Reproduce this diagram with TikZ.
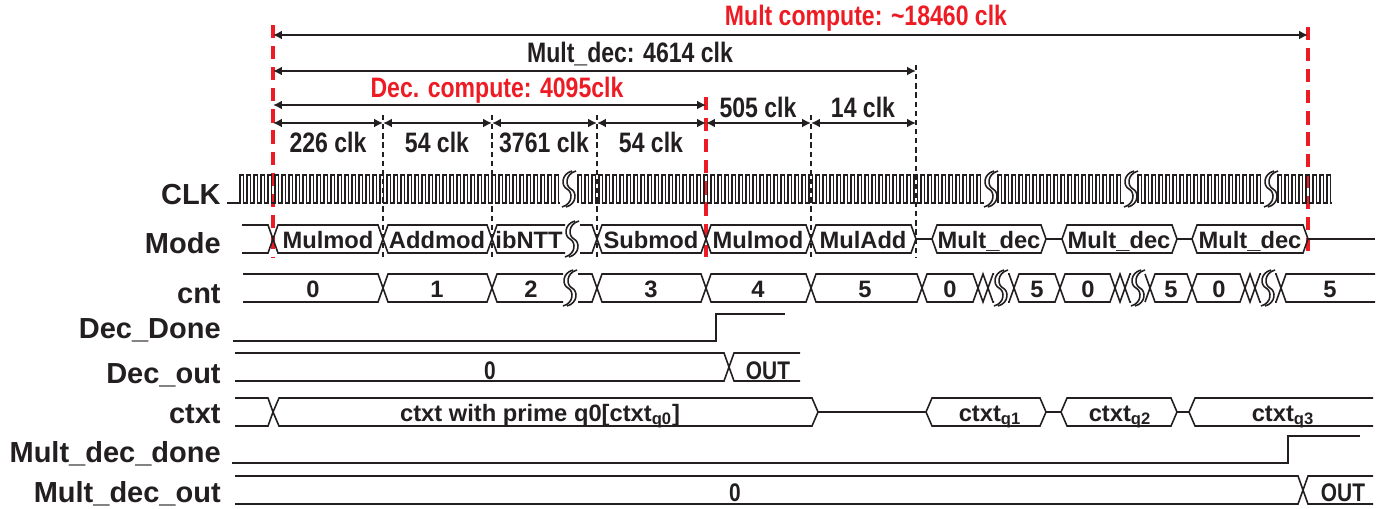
\documentclass[tikz,border=0pt]{standalone}
\usepackage{fontspec}
\setmainfont{Liberation Sans}
\newfontfamily\narrowsans{Liberation Sans}[FakeStretch=0.82]
\usetikzlibrary{arrows.meta}
\definecolor{tdink}{RGB}{35,31,32}
\definecolor{tdred}{RGB}{237,28,36}

% break mark (double S) used on the long runs
\tikzset{
  brk/.pic={
    \draw[wave] (3,-18) .. controls (-8,-15) and (-8,-3) .. (-2,0)
      .. controls (4,3) and (4,15) .. (-7,18);
    \draw[wave] (7,-18) .. controls (-4,-15) and (-4,-3) .. (2,0)
      .. controls (8,3) and (8,15) .. (-3,18);
  }
}

\begin{document}
\begin{tikzpicture}[
  x=0.02cm, y=-0.02cm,
  sig/.style={font=\fontsize{16.5}{18}\selectfont\bfseries, text=tdink,
    anchor=base east, inner sep=0pt},
  val/.style={font=\fontsize{13.5}{15}\selectfont\bfseries, text=tdink,
    anchor=base, inner sep=0pt},
  valn/.style={font=\narrowsans\fontsize{14.5}{16}\selectfont\bfseries,
    text=tdink, anchor=base, inner sep=0pt},
  dim/.style={font=\narrowsans\fontsize{16}{18}\selectfont\bfseries,
    text=tdink, anchor=base, inner sep=0pt},
  wave/.style={line width=0.9pt, draw=tdink, line join=miter},
  span/.style={{Latex[length=5pt,width=5pt]}-{Latex[length=5pt,width=5pt]},
    line width=1.1pt, draw=tdink},
  guide/.style={draw=tdink, line width=0.6pt, dash pattern=on 3pt off 2.2pt},
  redguide/.style={draw=tdred, line width=1.8pt, dash pattern=on 7.5pt off 4.5pt}
]
\useasboundingbox (0,0) rectangle (1383,508);

% time marks
\foreach \n/\x in {0/273,1/383,2/492,3/597,4/706,5/811,6/916,7/1308}
  \coordinate (t\n) at (\x,0);

% signal names
\node[sig] (lclk) at (221,204) {CLK};
\node[sig] (lmode) at (221,253) {Mode};
\node[sig] (lcnt) at (221,303) {cnt};
\node[sig] (ldone) at (221,338) {Dec\_Done};
\node[sig] (ldout) at (221,383) {Dec\_out};
\node[sig] (lctxt) at (221,423) {ctxt};
\node[sig] (lmdone) at (221,462) {Mult\_dec\_done};
\node[sig] (lmout) at (221,502) {Mult\_dec\_out};

% guides
\foreach \i in {1,2,3,5}
  \draw[guide] (t\i |- 0,115) -- (t\i |- 0,257);
\draw[guide] (t6 |- 0,65) -- (t6 |- 0,257);
\draw[redguide] (t0 |- 0,25) -- (t0 |- 0,257);
\draw[redguide] (t4 |- 0,97) -- (t4 |- 0,257);
\draw[redguide] (t7 |- 0,27) -- (t7 |- 0,257);

% spans
\draw[span] (t0 |- 0,35) -- (t7 |- 0,35);
\draw[span] (t0 |- 0,71) -- (t6 |- 0,71);
\draw[span] (t0 |- 0,105) -- (t4 |- 0,105);
\foreach \i/\j in {0/1,1/2,2/3,3/4,4/5,5/6}
  \draw[span] (t\i |- 0,123) -- (t\j |- 0,123);

\node[dim, text=tdred] (multc) at (866,25) {Mult compute: \textasciitilde18460 clk};
\node[dim] (multd) at (630,62) {Mult\_dec: 4614 clk};
\node[dim, text=tdred] (decc) at (497,97) {Dec. compute: 4095clk};
\node[dim] (s0) at (328,152) {226 clk};
\node[dim] (s1) at (437,152) {54 clk};
\node[dim] (s2) at (544,152) {3761 clk};
\node[dim] (s3) at (651,152) {54 clk};
\node[dim] (s4) at (758,117) {505 clk};
\node[dim] (s5) at (863,117) {14 clk};

% CLK
\draw[wave] (227,203) -- (240,203)
  \foreach \t in {240,247,...,555} { -- (\t,203) -- (\t,175) -- (\t+3.5,175) -- (\t+3.5,203) } -- (560,203);
\draw[wave] (578,203)
  \foreach \t in {578,585,...,977} { -- (\t,203) -- (\t,175) -- (\t+3.5,175) -- (\t+3.5,203) } -- (984,203);
\draw[wave] (998,203)
  \foreach \t in {998,1005,...,1117} { -- (\t,203) -- (\t,175) -- (\t+3.5,175) -- (\t+3.5,203) } -- (1124,203);
\draw[wave] (1138,203)
  \foreach \t in {1138,1145,...,1257} { -- (\t,203) -- (\t,175) -- (\t+3.5,175) -- (\t+3.5,203) } -- (1264,203);
\draw[wave] (1278,203)
  \foreach \t in {1278,1285,...,1327} { -- (\t,203) -- (\t,175) -- (\t+3.5,175) -- (\t+3.5,203) } -- (1332,203);
\foreach \x in {569,991,1131,1271}
  \pic at (\x,189) {brk};

% Mode
\draw[wave] (242,225) -- (268,225) -- (273,239) -- (268,253) -- (242,253);
\foreach \a/\b in {273/383,383/492,597/706,706/811,811/916,932/1046,1062/1177,1192/1308}
  \draw[wave] (\a,239) -- (\a+5,225) -- (\b-5,225) -- (\b,239) -- (\b-5,253) -- (\a+5,253) -- cycle;
\draw[wave] (565,225) -- (497,225) -- (492,239) -- (497,253) -- (565,253);
\draw[wave] (580,225) -- (592,225) -- (597,239) -- (592,253) -- (580,253);
\draw[wave] (916,239) -- (932,239) (1046,239) -- (1062,239)
  (1177,239) -- (1192,239) (1308,239) -- (1375,239);
\pic at (572,239) {brk};
\node[val] (md0) at (328,248) {Mulmod};
\node[val] (md1) at (437,248) {Addmod};
\node[val] (md2) at (529,248) {ibNTT};
\node[val] (md3) at (651,248) {Submod};
\node[val] (md4) at (758,248) {Mulmod};
\node[val] (md5) at (863,248) {MulAdd};
\node[val] (md6) at (989,248) {Mult\_dec};
\node[val] (md7) at (1119,248) {Mult\_dec};
\node[val] (md8) at (1250,248) {Mult\_dec};

% cnt
\foreach \a/\b in {383/492,597/706,706/811,811/922,922/978,978/988,1014/1060,
    1060/1115,1115/1125,1150/1192,1192/1245,1245/1255}
  \draw[wave] (\a,288) -- (\a+5,274) -- (\b-5,274) -- (\b,288) -- (\b-5,302) -- (\a+5,302) -- cycle;
\foreach \a/\b in {243/383,578/597,1008/1014,1145/1150,1275/1281}
  \draw[wave] (\a,274) -- (\b-5,274) -- (\b,288) -- (\b-5,302) -- (\a,302);
\foreach \a/\b in {492/563,988/994,1125/1131,1255/1261,1281/1375}
  \draw[wave] (\b,274) -- (\a+5,274) -- (\a,288) -- (\a+5,302) -- (\b,302);
\foreach \x in {570,1001,1138,1268}
  \pic at (\x,288) {brk};
\foreach \n/\x/\v in {0/313/0,1/437/1,2/531/2,3/651/3,4/758/4,5/865/5,6/950/0,
    7/1037/5,8/1088/0,9/1171/5,10/1219/0,11/1330/5}
  \node[val] (c\n) at (\x,297) {\v};

% Dec_Done
\draw[wave] (233,341) -- (716,341) -- (716,314) -- (785,314);

% Dec_out
\draw[wave] (235,353) -- (724,353) -- (729,367) -- (724,381) -- (235,381);
\draw[wave] (800,353) -- (734,353) -- (729,367) -- (734,381) -- (800,381);
\node[valn] (do0) at (490,379) {0};
\node[valn] (do1) at (768,379) {OUT};

% ctxt
\draw[wave] (235,398) -- (268,398) -- (273,412) -- (268,426) -- (235,426);
\foreach \a/\b in {273/818,926/1046,1061/1177}
  \draw[wave] (\a,412) -- (\a+6,398) -- (\b-6,398) -- (\b,412) -- (\b-6,426) -- (\a+6,426) -- cycle;
\draw[wave] (1373,398) -- (1195,398) -- (1189,412) -- (1195,426) -- (1373,426);
\draw[wave] (818,412) -- (926,412) (1046,412) -- (1061,412) (1177,412) -- (1189,412);
\node[val] (cx0) at (540,421) {ctxt with prime q0[ctxt\textsubscript{q0}]};
\node[val] (cx1) at (990,421) {ctxt\textsubscript{q1}};
\node[val] (cx2) at (1120,421) {ctxt\textsubscript{q2}};
\node[val] (cx3) at (1283,421) {ctxt\textsubscript{q3}};

% Mult_dec_done
\draw[wave] (232,463) -- (1288,463) -- (1288,436) -- (1360,436);

% Mult_dec_out
\draw[wave] (235,476) -- (1298,476) -- (1303,490) -- (1298,504) -- (235,504);
\draw[wave] (1373,476) -- (1308,476) -- (1303,490) -- (1308,504) -- (1373,504);
\node[valn] (mo0) at (735,501) {0};
\node[valn] (mo1) at (1343,501) {OUT};
\end{tikzpicture}
\end{document}
